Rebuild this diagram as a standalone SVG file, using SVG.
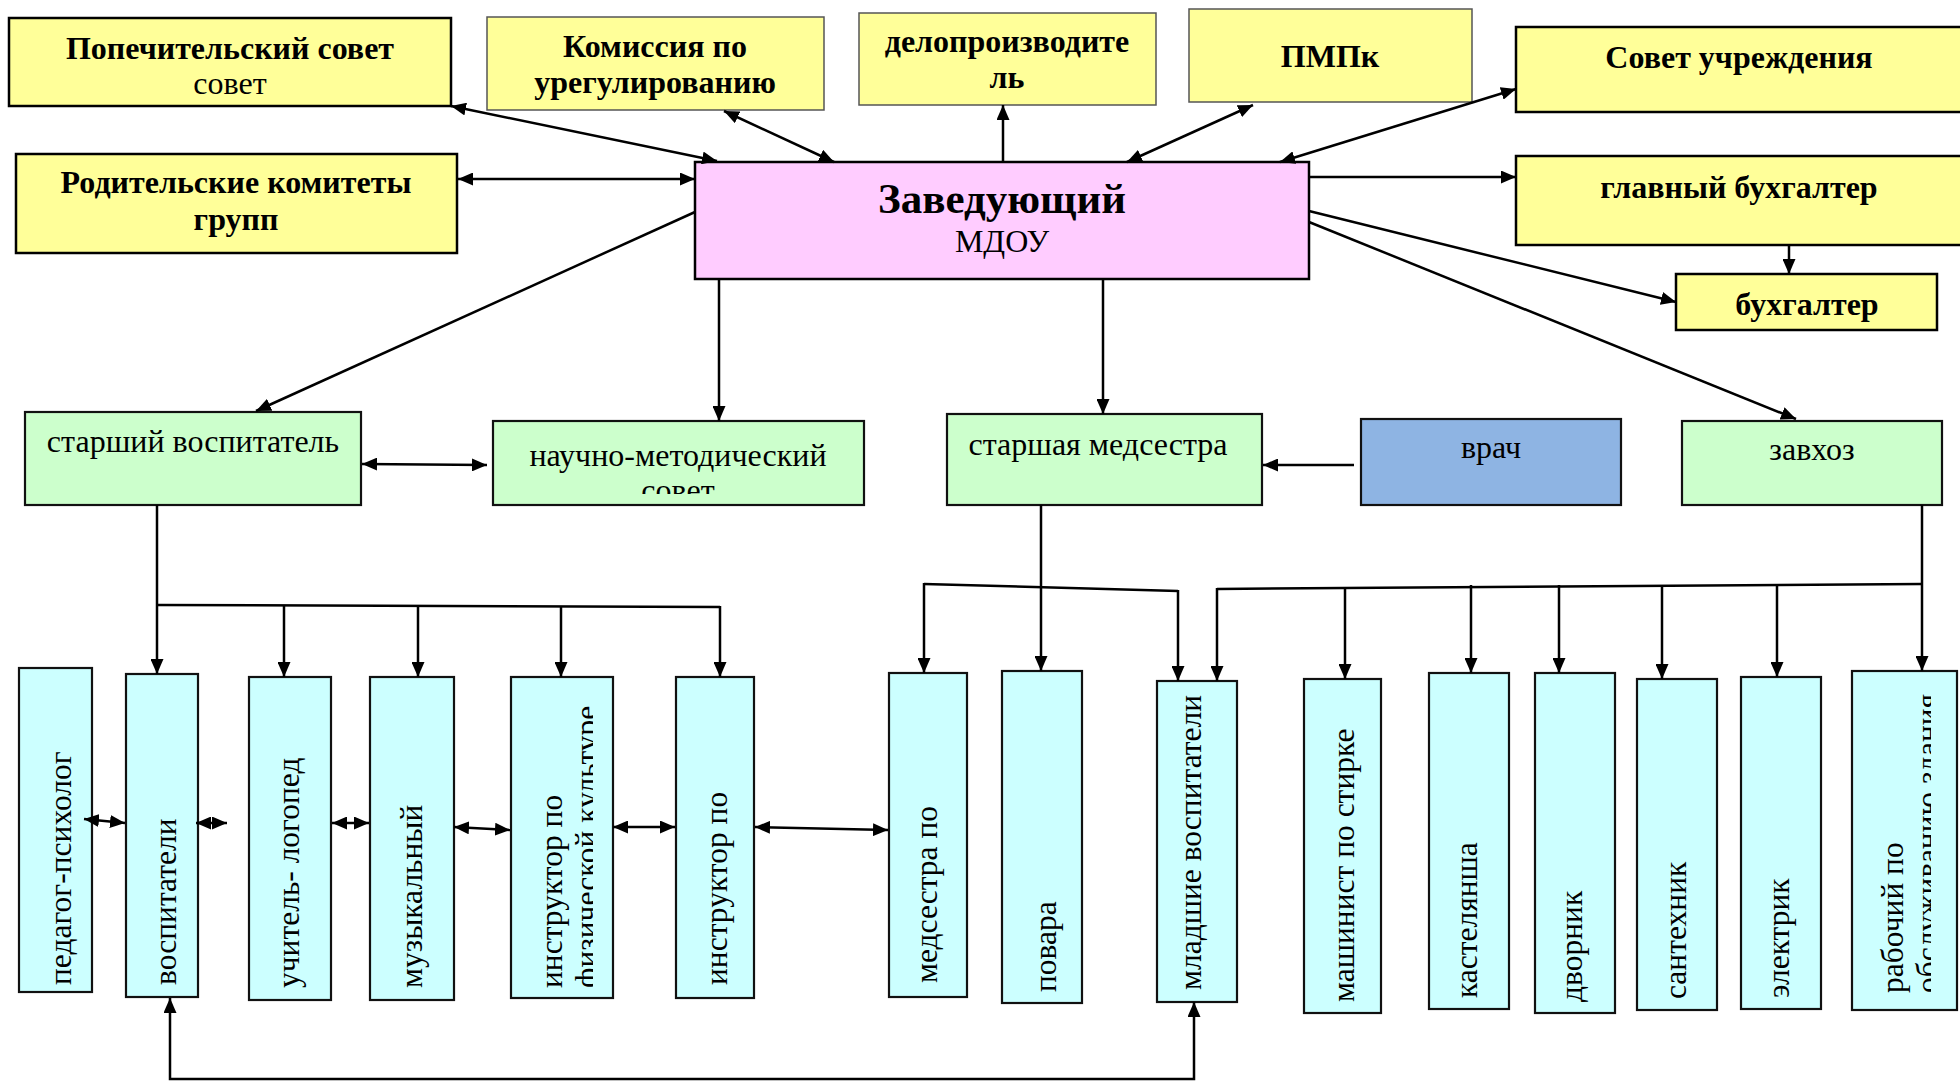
<svg xmlns="http://www.w3.org/2000/svg" width="1960" height="1081" viewBox="0 0 1960 1081">
<style>
.t{font-family:"Liberation Serif","Times New Roman",serif;font-size:32px;fill:#000}
.b{font-weight:bold}
.m{text-anchor:middle}
.v{font-family:"Liberation Serif","Times New Roman",serif;font-size:31.5px;fill:#000}
.y{fill:#FFFF99;stroke:#000;stroke-width:2.5}
.yl{fill:#FFFF99;stroke:#555;stroke-width:1.5}
.g{fill:#CCFFCC;stroke:#111;stroke-width:2.2}
.c{fill:#CCFFFF;stroke:#111;stroke-width:2.2}
.cn line,.cn path{stroke:#000;stroke-width:2.5;fill:none}
.d{marker-start:url(#ah);marker-end:url(#ah)}
.e{marker-end:url(#ah)}
</style>
<defs>
<marker id="ah" viewBox="0 0 15 13" refX="15" refY="6.5" markerWidth="15" markerHeight="13" markerUnits="userSpaceOnUse" orient="auto-start-reverse"><path d="M0,0 L15,6.5 L0,13 z" fill="#000"/></marker>
<clipPath id="cpNauch"><rect x="493" y="421" width="371" height="73"/></clipPath>
<clipPath id="cpFiz"><rect x="511" y="703" width="82" height="295"/></clipPath>
<clipPath id="cpRab"><rect x="1852" y="692" width="79" height="318"/></clipPath>
</defs>
<rect x="0" y="0" width="1960" height="1081" fill="#fff"/>

<g id="n-popech"><rect class="y" x="9" y="18" width="442" height="88"/><text class="t b m" x="230" y="59">Попечительский совет</text><text class="t m" x="230" y="94">совет</text></g>
<g id="n-komis"><rect class="yl" x="487" y="17" width="337" height="93"/><text class="t b m" x="655" y="57">Комиссия по</text><text class="t b m" x="655" y="93">урегулированию</text></g>
<g id="n-delo"><rect class="yl" x="859" y="13" width="297" height="92"/><text class="t b m" x="1007" y="52">делопроизводите</text><text class="t b m" x="1007" y="88">ль</text></g>
<g id="n-pmpk"><rect class="yl" x="1189" y="9" width="283" height="93"/><text class="t b m" x="1330" y="67">ПМПк</text></g>
<g id="n-sovet"><rect class="y" x="1516" y="27" width="450" height="85"/><text class="t b m" x="1739" y="68">Совет учреждения</text></g>
<g id="n-glbuh"><rect class="y" x="1516" y="156" width="450" height="89"/><text class="t b m" x="1739" y="198">главный бухгалтер</text></g>
<g id="n-buh"><rect class="y" x="1676" y="274" width="261" height="56"/><text class="t b m" x="1807" y="315">бухгалтер</text></g>
<g id="n-rodit"><rect class="y" x="16" y="154" width="441" height="99"/><text class="t b m" x="236" y="193">Родительские комитеты</text><text class="t b m" x="236" y="230">групп</text></g>
<g id="n-zav"><rect x="695" y="162" width="614" height="117" fill="#FFCCFF" stroke="#000" stroke-width="2.5"/><text class="t b m" x="1002" y="213" style="font-size:43px">Заведующий</text><text class="t m" x="1002" y="252">МДОУ</text></g>

<g id="n-stvosp"><rect class="g" x="25" y="412" width="336" height="93"/><text class="t m" x="193" y="452">старший воспитатель</text></g>
<g id="n-nauch"><rect class="g" x="493" y="421" width="371" height="84"/><g clip-path="url(#cpNauch)"><text class="t m" x="678" y="466">научно-методический</text><text class="t m" x="678" y="501">совет</text></g></g>
<g id="n-stmed"><rect class="g" x="947" y="414" width="315" height="91"/><text class="t m" x="1098" y="455">старшая медсестра</text></g>
<g id="n-vrach"><rect x="1361" y="419" width="260" height="86" fill="#8EB4E3" stroke="#111" stroke-width="2.2"/><text class="t m" x="1491" y="458">врач</text></g>
<g id="n-zavhoz"><rect class="g" x="1682" y="421" width="260" height="84"/><text class="t m" x="1812" y="460">завхоз</text></g>

<g id="n-psih"><rect class="c" x="19" y="668" width="73" height="324"/><text class="v" transform="translate(71,985) rotate(-90)">педагог-психолог</text></g>
<g id="n-vosp"><rect class="c" x="126" y="674" width="72" height="323"/><text class="v" transform="translate(176,985) rotate(-90)">воспитатели</text></g>
<g id="n-logo"><rect class="c" x="249" y="677" width="82" height="323"/><text class="v" transform="translate(299,988) rotate(-90)">учитель- логопед</text></g>
<g id="n-muz"><rect class="c" x="370" y="677" width="84" height="323"/><text class="v" transform="translate(422,988) rotate(-90)">музыкальный</text></g>
<g id="n-fiz"><rect class="c" x="511" y="677" width="102" height="321"/><g clip-path="url(#cpFiz)"><text class="v" transform="translate(562,988) rotate(-90)">инструктор по<tspan x="0" dy="35">физической культуре</tspan></text></g></g>
<g id="n-instr"><rect class="c" x="676" y="677" width="78" height="321"/><text class="v" transform="translate(727,985) rotate(-90)">инструктор по</text></g>
<g id="n-medpo"><rect class="c" x="889" y="673" width="78" height="324"/><text class="v" transform="translate(937,983) rotate(-90)">медсестра по</text></g>
<g id="n-povar"><rect class="c" x="1002" y="671" width="80" height="332"/><text class="v" transform="translate(1056,992) rotate(-90)">повара</text></g>
<g id="n-mlvosp"><rect class="c" x="1157" y="681" width="80" height="321"/><text class="v" transform="translate(1201,990) rotate(-90)">младшие воспитатели</text></g>
<g id="n-mash"><rect class="c" x="1304" y="679" width="77" height="334"/><text class="v" transform="translate(1354,1002) rotate(-90)">машинист по стирке</text></g>
<g id="n-kast"><rect class="c" x="1429" y="673" width="80" height="336"/><text class="v" transform="translate(1477,998) rotate(-90)">кастелянша</text></g>
<g id="n-dvor"><rect class="c" x="1535" y="673" width="80" height="340"/><text class="v" transform="translate(1582,1002) rotate(-90)">дворник</text></g>
<g id="n-sant"><rect class="c" x="1637" y="679" width="80" height="331"/><text class="v" transform="translate(1686,999) rotate(-90)">сантехник</text></g>
<g id="n-elek"><rect class="c" x="1741" y="677" width="80" height="332"/><text class="v" transform="translate(1789,998) rotate(-90)">электрик</text></g>
<g id="n-rab"><rect class="c" x="1852" y="671" width="105" height="339"/><g clip-path="url(#cpRab)"><text class="v" transform="translate(1903,993) rotate(-90)">рабочий по<tspan x="0" dy="35">обслуживанию здания</tspan></text></g></g>

<g id="connectors" class="cn">
<line class="d" x1="451" y1="106" x2="717" y2="161"/>
<line class="d" x1="724" y1="111" x2="834" y2="162"/>
<line class="d" x1="458" y1="179" x2="695" y2="179"/>
<line class="e" x1="1003" y1="162" x2="1003" y2="105"/>
<line class="d" x1="1127" y1="162" x2="1253" y2="105"/>
<line class="d" x1="1280" y1="162" x2="1516" y2="89"/>
<line class="e" x1="1309" y1="177" x2="1516" y2="177"/>
<line class="e" x1="1789" y1="245" x2="1789" y2="274"/>
<line class="e" x1="1309" y1="211" x2="1676" y2="302"/>
<line class="e" x1="1309" y1="222" x2="1796" y2="419"/>
<line class="e" x1="695" y1="212" x2="256" y2="411"/>
<line class="e" x1="719" y1="280" x2="719" y2="421"/>
<line class="e" x1="1103" y1="280" x2="1103" y2="414"/>
<line class="d" x1="362" y1="464" x2="487" y2="465"/>
<line class="e" x1="1354" y1="465" x2="1263" y2="465"/>

<line class="e" x1="157" y1="505" x2="157" y2="674"/>
<line x1="157" y1="605" x2="720" y2="607"/>
<line class="e" x1="284" y1="605.5" x2="284" y2="677"/>
<line class="e" x1="418" y1="606" x2="418" y2="677"/>
<line class="e" x1="561" y1="606.5" x2="561" y2="677"/>
<line class="e" x1="720" y1="606" x2="720" y2="677"/>

<line class="e" x1="1041" y1="505" x2="1041" y2="671"/>
<line x1="924" y1="584" x2="1178" y2="591"/>
<line class="e" x1="924" y1="583" x2="924" y2="673"/>
<line class="e" x1="1178" y1="590" x2="1178" y2="681"/>

<line class="e" x1="1922" y1="505" x2="1922" y2="671"/>
<line x1="1217" y1="589" x2="1922" y2="584"/>
<line class="e" x1="1217" y1="588" x2="1217" y2="681"/>
<line class="e" x1="1345" y1="587" x2="1345" y2="679"/>
<line class="e" x1="1471" y1="585" x2="1471" y2="673"/>
<line class="e" x1="1559" y1="585" x2="1559" y2="673"/>
<line class="e" x1="1662" y1="585" x2="1662" y2="679"/>
<line class="e" x1="1777" y1="584" x2="1777" y2="677"/>

<line class="d" x1="84" y1="819" x2="125" y2="823"/>
<line class="d" x1="196" y1="823" x2="227" y2="823"/>
<line class="d" x1="332" y1="823" x2="369" y2="823"/>
<line class="d" x1="454" y1="827" x2="510" y2="830"/>
<line class="d" x1="613" y1="827" x2="675" y2="827"/>
<line class="d" x1="755" y1="827" x2="888" y2="830"/>
<path class="d" d="M170,998 L170,1079 L1194,1079 L1194,1002"/>
</g>
</svg>
